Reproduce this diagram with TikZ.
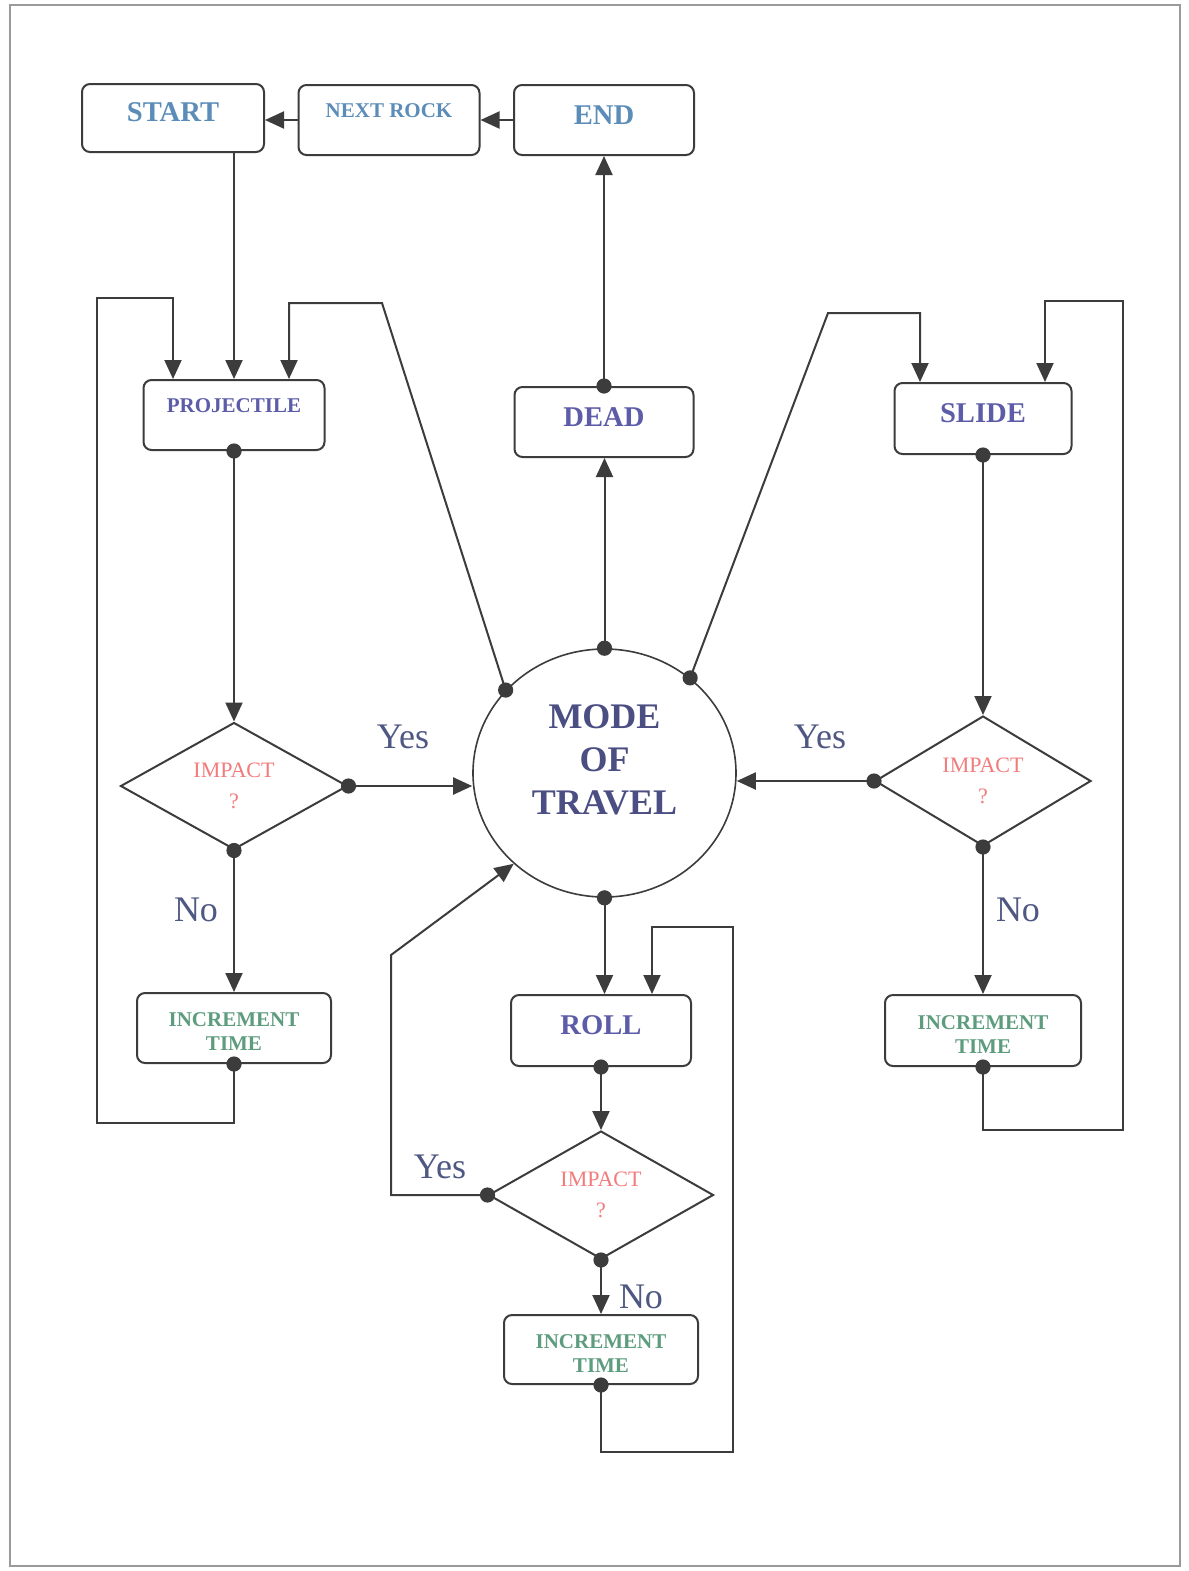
\documentclass[tikz,border=0pt]{standalone}
\usepackage{fontspec}
\setmainfont{Liberation Serif}
\usetikzlibrary{shapes.geometric,arrows.meta}
\definecolor{ln}{HTML}{3C3C3C}
\definecolor{topc}{HTML}{5B8DB8}
\definecolor{modec}{HTML}{5C5CA8}
\definecolor{travc}{HTML}{4B4E82}
\definecolor{impc}{HTML}{F27C7C}
\definecolor{incc}{HTML}{5E9C7E}
\definecolor{ync}{HTML}{4E5882}
\definecolor{framec}{HTML}{9A9A9A}
\begin{document}
\begin{tikzpicture}[x=0.5pt,y=-0.5pt,
  box/.style={draw=ln, line width=1pt, rounded corners=4pt, fill=white, inner sep=0pt},
  big/.style={font=\bfseries\fontsize{14.3}{16}\selectfont, text height=9.4pt},
  small/.style={font=\bfseries\fontsize{10.5}{12}\selectfont, text height=7pt},
  inc/.style={box, label={[font=\bfseries\fontsize{10.5}{12}\selectfont, text=incc, align=center, yshift=-2pt]center:INCREMENT\\TIME}},
  conn/.style={draw=ln, line width=1pt, -{Triangle[length=9.5pt,width=8.5pt]}},
  plain/.style={draw=ln, line width=1pt},
  dia/.style={diamond, draw=ln, line width=1pt, inner sep=0pt, text=impc, align=center, font=\fontsize{11}{15.5}\selectfont},
  yn/.style={font=\fontsize{18}{20}\selectfont, text=ync},
]
\useasboundingbox (0,0) rectangle (1189,1571);
\fill[white] (0,0) rectangle (1189,1571);
\draw[framec, line width=0.8pt] (10,5) rectangle (1180,1566);

% top row
\node[box, big, text=topc, minimum width=91pt, minimum height=34pt, text depth=6pt] (start) at (173,118) {START};
\node[box, small, text=topc, minimum width=90.5pt, minimum height=35pt, text depth=10pt] (next) at (389,120) {NEXT ROCK};
\node[box, big, text=topc, minimum width=90pt, minimum height=35pt, text depth=5pt] (end) at (604,120) {END};

% mode boxes
\node[box, small, text=modec, minimum width=90.5pt, minimum height=35pt, text depth=10pt] (proj) at (234,415) {PROJECTILE};
\node[box, big, text=modec, minimum width=89.5pt, minimum height=35pt, text depth=5pt] (dead) at (604,422) {DEAD};
\node[box, big, text=modec, minimum width=88.5pt, minimum height=35.5pt, text depth=5.5pt] (slide) at (983,418.5) {SLIDE};
\node[box, big, text=modec, minimum width=90pt, minimum height=35.5pt, text depth=5.5pt] (roll) at (601,1030.5) {ROLL};

% central ellipse
\node[ellipse, draw=ln, line width=0.8pt, minimum width=131.5pt, minimum height=124pt, inner sep=0pt,
  label={[font=\bfseries\fontsize{18}{21.5}\selectfont, text=travc, align=center, yshift=6.5pt]center:MODE\\OF\\TRAVEL}] (mode) at (604.5,773) {};

% decisions
\node[dia, minimum width=113.5pt, minimum height=63pt] (dL) at (234,786) {IMPACT\\?};
\node[dia, minimum width=108pt, minimum height=65pt] (dR) at (983,781) {IMPACT\\?};
\node[dia, minimum width=112.5pt, minimum height=64pt] (dB) at (601,1195) {IMPACT\\?};

% increment time boxes
\node[inc, minimum width=97pt, minimum height=35pt] (incL) at (234,1028) {};
\node[inc, minimum width=98pt, minimum height=35.5pt] (incR) at (983,1030.5) {};
\node[inc, minimum width=97pt, minimum height=34.5pt] (incB) at (601,1349.5) {};

% helper coordinates
\path (proj.north) ++(-61,0) coordinate (pinL);
\path (proj.north) ++(55,0) coordinate (pinR);
\path (slide.north) ++(-63,0) coordinate (pinS1);
\path (slide.north) ++(62,0) coordinate (pinS2);
\path (roll.north) ++(51,0) coordinate (pinB);
\coordinate (kL1) at (97,1123);
\coordinate (kL2) at (97,298);
\coordinate (k1) at (382,303);
\coordinate (k2) at (828,313);
\coordinate (kR1) at (1123,1130);
\coordinate (kR2) at (1123,301);
\coordinate (k5) at (391,955);
\coordinate (kB1) at (733,1452);
\coordinate (kB2) at (733,927);

% connectors
\draw[conn] (next.west) -- (start.east |- next.west);
\draw[conn] (end.west) -- (next.east |- end.west);
\draw[conn] (start.south -| proj.north) -- (proj.north);
\draw[conn] (proj.south) -- (dL.north);
\draw[conn] (dL.east) -- (dL.east -| mode.west);
\draw[conn] (dL.south) -- (incL.north);
\draw[conn] (incL.south) -- (incL.south |- kL1) -- (kL1) -- (kL2) -- (kL2 -| pinL) -- (pinL);
\draw[conn] (mode.140) -- (k1) -- (k1 -| pinR) -- (pinR);
\draw[conn] (mode.north) -- (mode.north |- dead.south);
\draw[conn] (dead.north) -- (dead.north |- end.south);
\draw[conn] (mode.48) -- (k2) -- (k2 -| pinS1) -- (pinS1);
\draw[conn] (slide.south) -- (dR.north);
\draw[conn] (dR.west) -- (dR.west -| mode.east);
\draw[conn] (dR.south) -- (incR.north);
\draw[conn] (incR.south) -- (incR.south |- kR1) -- (kR1) -- (kR2) -- (kR2 -| pinS2) -- (pinS2);
\draw[conn] (mode.south) -- (mode.south |- roll.north);
\draw[conn] (roll.south) -- (dB.north);
\draw[conn] (dB.west) -- (dB.west -| k5) -- (k5) -- (mode.225);
\draw[conn] (dB.south) -- (incB.north);
\draw[conn] (incB.south) -- (incB.south |- kB1) -- (kB1) -- (kB2) -- (kB2 -| pinB) -- (pinB);

% dots
\foreach \p in {proj.south, dL.east, dL.south, incL.south, mode.140, mode.north, dead.north, mode.48,
  slide.south, dR.west, dR.south, incR.south, mode.south, roll.south, dB.west, dB.south, incB.south}
  \fill[ln] (\p) circle (3.8pt);

% labels
\node[yn] (yesL) at (403,737) {Yes};
\node[yn] (yesR) at (820,737) {Yes};
\node[yn] (yesB) at (440,1167) {Yes};
\node[yn] (noL) at (196,910) {No};
\node[yn] (noR) at (1018,910) {No};
\node[yn] (noB) at (641,1297) {No};
\end{tikzpicture}
\end{document}
